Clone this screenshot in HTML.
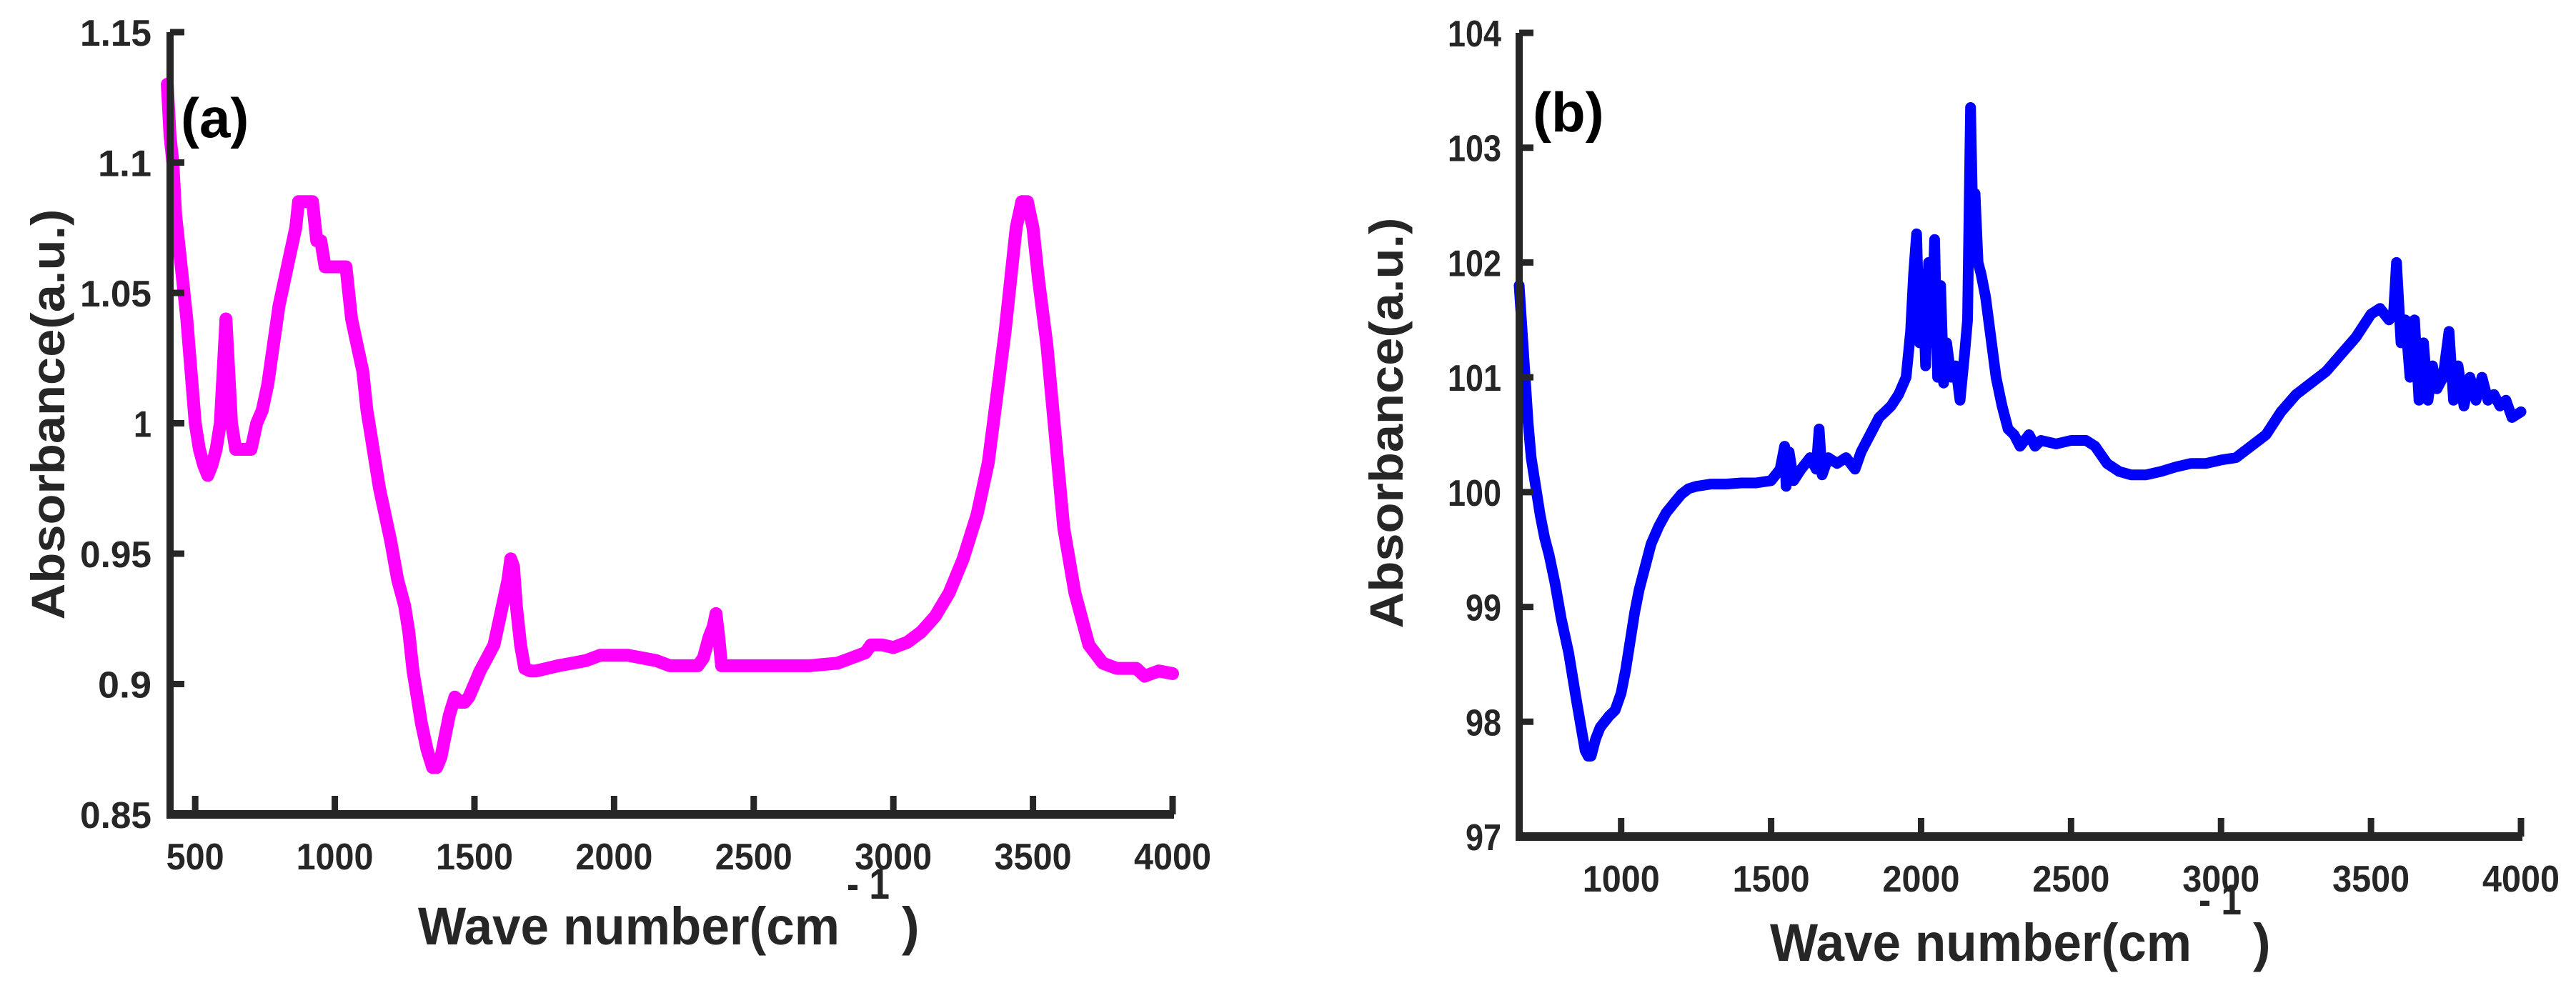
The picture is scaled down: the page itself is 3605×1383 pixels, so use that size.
<!DOCTYPE html>
<html><head><meta charset="utf-8"><style>
html,body{margin:0;padding:0;background:#fff;}
svg{display:block;}
text{font-family:"Liberation Sans",sans-serif;font-weight:bold;fill:#262626;}
</style></head><body>
<svg id="chart" width="3605" height="1383" viewBox="0 0 3605 1383" xmlns="http://www.w3.org/2000/svg">
<g id="pa"></g>
<g id="pb"></g>
</svg>
<script>
const aWave=[400,410,420,430,440,455,470,485,500,515,530,545,560,575,590,600,610,620,630,645,660,680,700,720,740,760,780,800,820,840,860,870,880,900,920,935,950,965,980,1000,1020,1040,1050,1060,1080,1100,1115,1130,1145,1160,1180,1200,1225,1250,1265,1280,1295,1310,1330,1350,1365,1380,1395,1410,1430,1450,1465,1480,1500,1520,1545,1570,1590,1610,1620,1630,1640,1650,1665,1680,1700,1720,1760,1800,1850,1900,1950,2000,2050,2100,2150,2200,2250,2300,2320,2340,2355,2365,2375,2385,2450,2500,2600,2700,2800,2850,2900,2920,2960,3000,3050,3100,3150,3200,3250,3300,3340,3370,3400,3420,3440,3460,3480,3500,3520,3550,3580,3610,3650,3700,3750,3800,3850,3870,3900,3950,4000];
const aAbs=[1.13,1.11,1.10,1.08,1.07,1.055,1.04,1.02,1.0,0.99,0.984,0.98,0.984,0.99,1.0,1.02,1.04,1.02,1.0,0.99,0.99,0.99,0.99,1.0,1.005,1.015,1.03,1.045,1.055,1.065,1.075,1.085,1.085,1.085,1.085,1.07,1.07,1.06,1.06,1.06,1.06,1.06,1.05,1.04,1.03,1.02,1.005,0.995,0.985,0.975,0.965,0.955,0.94,0.93,0.92,0.905,0.895,0.885,0.875,0.868,0.868,0.872,0.88,0.888,0.895,0.893,0.893,0.895,0.9,0.905,0.91,0.915,0.925,0.935,0.94,0.948,0.945,0.93,0.915,0.906,0.905,0.905,0.906,0.907,0.908,0.909,0.911,0.911,0.911,0.910,0.909,0.907,0.907,0.907,0.91,0.918,0.922,0.927,0.918,0.907,0.907,0.907,0.907,0.907,0.908,0.91,0.912,0.915,0.915,0.914,0.916,0.92,0.926,0.935,0.948,0.965,0.985,1.01,1.035,1.055,1.075,1.085,1.085,1.075,1.055,1.03,0.995,0.96,0.935,0.915,0.908,0.906,0.906,0.906,0.903,0.905,0.904,0.904];
const aYTicks=[0.85,0.9,0.95,1,1.05,1.1,1.15];
const aYLabels=["0.85","0.9","0.95","1","1.05","1.1","1.15"];
const aXTicks=[500,1000,1500,2000,2500,3000,3500,4000];

const bWave=[660,670,680,690,700,715,730,745,760,780,800,825,850,870,880,890,900,915,930,945,960,980,1000,1015,1030,1045,1060,1080,1100,1125,1150,1175,1200,1225,1250,1300,1350,1400,1450,1500,1530,1545,1550,1560,1575,1600,1630,1650,1660,1670,1690,1720,1750,1780,1800,1820,1840,1860,1880,1900,1925,1950,1965,1975,1985,1995,2005,2015,2025,2035,2045,2055,2065,2075,2085,2100,2115,2130,2145,2155,2165,2172,2180,2190,2200,2215,2230,2250,2270,2290,2310,2330,2360,2380,2400,2450,2500,2550,2580,2620,2660,2700,2750,2800,2850,2900,2950,3000,3050,3100,3150,3200,3250,3300,3350,3400,3450,3500,3530,3560,3575,3585,3600,3615,3630,3645,3660,3675,3690,3705,3720,3740,3760,3775,3790,3810,3830,3850,3870,3890,3910,3930,3950,3970,4000];
const bAbs=[101.8,101.4,101.0,100.6,100.3,100.05,99.8,99.6,99.45,99.2,98.9,98.6,98.2,97.9,97.75,97.7,97.7,97.85,97.95,98.0,98.05,98.1,98.25,98.45,98.7,98.95,99.15,99.35,99.55,99.7,99.82,99.9,99.98,100.03,100.05,100.07,100.07,100.08,100.08,100.1,100.2,100.4,100.05,100.35,100.1,100.2,100.3,100.2,100.55,100.15,100.3,100.25,100.3,100.2,100.35,100.45,100.55,100.65,100.7,100.75,100.85,101.0,101.4,101.9,102.25,101.3,101.9,101.1,102.0,101.3,102.2,101.0,101.8,100.95,101.3,101.0,101.1,100.8,101.2,101.5,103.35,102.4,102.6,102.0,101.9,101.7,101.4,101.0,100.75,100.55,100.5,100.4,100.5,100.4,100.45,100.42,100.45,100.45,100.4,100.25,100.18,100.15,100.15,100.18,100.22,100.25,100.25,100.28,100.3,100.4,100.5,100.7,100.85,100.95,101.05,101.2,101.35,101.55,101.6,101.5,101.55,102.0,101.3,101.5,101.0,101.5,100.8,101.3,100.8,101.1,100.9,101.0,101.4,100.8,101.1,100.75,101.0,100.8,101.0,100.8,100.85,100.75,100.8,100.65,100.7,100.7];
const bYTicks=[97,98,99,100,101,102,103,104];
const bYLabels=["97","98","99","100","101","102","103","104"];
const bXTicks=[1000,1500,2000,2500,3000,3500,4000];

const NS="http://www.w3.org/2000/svg";
function mk(parent,tag,attrs){const e=document.createElementNS(NS,tag);for(const k in attrs)e.setAttribute(k,attrs[k]);parent.appendChild(e);return e;}

function panel(g,cfg){
  const sx=v=>cfg.x0+(v-cfg.xmin)/(cfg.xmax-cfg.xmin)*(cfg.x1-cfg.x0);
  const sy=v=>cfg.yb+(v-cfg.ymin)/(cfg.ymax-cfg.ymin)*(cfg.yt-cfg.yb);
  let d="";
  cfg.wave.forEach((w,i)=>{d+=(i?"L":"M")+sx(w).toFixed(1)+","+sy(cfg.vals[i]).toFixed(1);});
  const p=mk(g,"path",{d:d,fill:"none",stroke:cfg.color,"stroke-width":cfg.lw,"stroke-linejoin":"round","stroke-linecap":"round"});
  
  
  const ya=mk(g,"line",{x1:cfg.x0,y1:cfg.yt,x2:cfg.x0,y2:cfg.yb+6,stroke:"#262626","stroke-width":10});
  
  
  const xa=mk(g,"line",{x1:cfg.x0-5,y1:cfg.yb,x2:cfg.x1+2,y2:cfg.yb,stroke:"#262626","stroke-width":12});
  
  
  cfg.yt_.forEach((v,i)=>{
    const y=sy(v);
    const t=mk(g,"line",{x1:cfg.x0,y1:y,x2:cfg.x0+20,y2:y,stroke:"#262626","stroke-width":9});
    
    
    const l=mk(g,"text",{x:cfg.ylabx,y:y+19,"text-anchor":"end","font-size":52,textLength:cfg.ylabs[i].length*25,lengthAdjust:"spacingAndGlyphs"});
    l.textContent=cfg.ylabs[i];
    
    
  });
  cfg.xt.forEach(v=>{
    const x=sx(v);
    const t=mk(g,"line",{x1:x,y1:cfg.yb,x2:x,y2:cfg.yb-26,stroke:"#262626","stroke-width":9});
    
    
    const s=String(v);
    const l=mk(g,"text",{x:x,y:cfg.xlaby,"text-anchor":"middle","font-size":52,textLength:s.length*27,lengthAdjust:"spacingAndGlyphs"});
    l.textContent=s;
    
    
  });
}

panel(document.getElementById("pa"),{id:"a",x0:238,x1:1641,xmin:410,xmax:4000,yb:1140,yt:45,ymin:0.85,ymax:1.15,
  wave:aWave,vals:aAbs,color:"#ff00ff",lw:18,yt_:aYTicks,ylabs:aYLabels,xt:aXTicks,ylabx:212,xlaby:1217});
panel(document.getElementById("pb"),{id:"b",x0:2126,x1:3528,xmin:660,xmax:4000,yb:1171,yt:46,ymin:97,ymax:104,
  wave:bWave,vals:bAbs,color:"#0000ff",lw:15,yt_:bYTicks,ylabs:bYLabels,xt:bXTicks,ylabx:2101,xlaby:1248});
</script>
<svg width="3605" height="1383" viewBox="0 0 3605 1383" style="position:absolute;left:0;top:0;pointer-events:none" xmlns="http://www.w3.org/2000/svg">
<text x="253" y="192" font-size="78" style="fill:#000">(a)</text>
<text x="2145" y="184" font-size="78" style="fill:#000">(b)</text>
<text transform="translate(90,580) rotate(-90)" text-anchor="middle" font-size="66" textLength="575" lengthAdjust="spacingAndGlyphs">Absorbance(a.u.)</text>
<text transform="translate(1963,592) rotate(-90)" text-anchor="middle" font-size="66" textLength="575" lengthAdjust="spacingAndGlyphs">Absorbance(a.u.)</text>
<g>
<text x="585" y="1322" font-size="74" textLength="590" lengthAdjust="spacingAndGlyphs">Wave number(cm</text>
<text x="1185" y="1258" font-size="60" textLength="60" lengthAdjust="spacingAndGlyphs">- 1</text>
<text x="1262" y="1322" font-size="74">)</text>
</g>
<g>
<text x="2477" y="1345" font-size="74" textLength="590" lengthAdjust="spacingAndGlyphs">Wave number(cm</text>
<text x="3077" y="1280" font-size="60" textLength="60" lengthAdjust="spacingAndGlyphs">- 1</text>
<text x="3153" y="1345" font-size="74">)</text>
</g>
</svg>
</body></html>
